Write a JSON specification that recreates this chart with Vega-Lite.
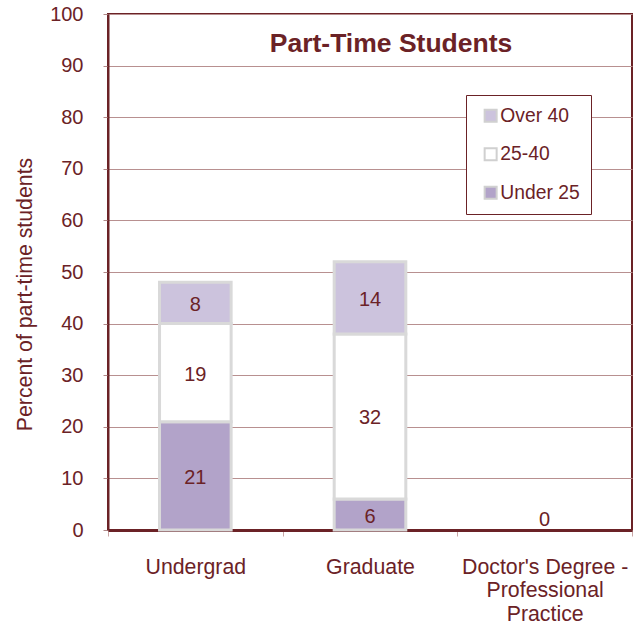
{
  "$schema": "https://vega.github.io/schema/vega-lite/v6.json",
  "width": 524,
  "height": 516,
  "autosize": {"type": "none"},
  "padding": {"left": 108, "top": 14, "right": 1, "bottom": 94},
  "background": "white",
  "config": {
    "font": "Liberation Sans",
    "view": {"stroke": "#6B2226", "strokeWidth": 2}
  },
  "title": {
    "text": "Part-Time Students",
    "fontSize": 26.5,
    "fontWeight": "bold",
    "color": "#6B2226",
    "anchor": "middle",
    "baseline": "middle",
    "offset": -30,
    "dy": 36,
    "dx": 21
  },
  "data": {
    "values": [
      {"category": "Undergrad", "group": "Under 25", "value": 21},
      {"category": "Undergrad", "group": "25-40", "value": 19},
      {"category": "Undergrad", "group": "Over 40", "value": 8},
      {"category": "Graduate", "group": "Under 25", "value": 6},
      {"category": "Graduate", "group": "25-40", "value": 32},
      {"category": "Graduate", "group": "Over 40", "value": 14},
      {"category": "Doctor's Degree - Professional Practice", "group": "Under 25", "value": 0}
    ]
  },
  "transform": [
    {"calculate": "indexof(['Under 25','25-40','Over 40'], datum.group)", "as": "ord"},
    {"stack": "value", "groupby": ["category"], "sort": [{"field": "ord", "order": "ascending"}], "as": ["v0", "v1"]},
    {"calculate": "(datum.v0 + datum.v1) / 2", "as": "mid"}
  ],
  "encoding": {
    "x": {
      "field": "category",
      "type": "nominal",
      "sort": ["Undergrad", "Graduate", "Doctor's Degree - Professional Practice"],
      "scale": {"paddingInner": 0, "paddingOuter": 0, "domain": ["Undergrad", "Graduate", "Doctor's Degree - Professional Practice"]},
      "axis": {
        "title": null,
        "labelAngle": 0,
        "tickBand": "extent",
        "labelPadding": 20,
        "domainColor": "#6B2226",
        "domainWidth": 3,
        "tickColor": "#C9A5A5",
        "tickSize": 6,
        "labelFontSize": 21.3,
        "labelColor": "#6B2226",
        "labelLineHeight": 23.5,
        "labelBaseline": "top",
        "labelExpr": "datum.label == \"Doctor's Degree - Professional Practice\" ? [\"Doctor's Degree -\", \"Professional\", \"Practice\"] : datum.label"
      }
    }
  },
  "layer": [
    {
      "transform": [{"filter": "datum.value > 0"}],
      "mark": {"type": "bar", "width": {"band": 0.41}, "stroke": "#D9D9D9", "strokeWidth": 3},
      "encoding": {
        "y": {
          "field": "v0",
          "type": "quantitative",
          "scale": {"domain": [0, 100], "nice": false},
          "axis": {
            "title": "Percent of part-time students",
            "values": [0, 10, 20, 30, 40, 50, 60, 70, 80, 90, 100],
            "grid": true,
            "gridColor": "#B89090",
            "gridWidth": 1,
            "domainColor": "#6B2226",
            "domainWidth": 2,
            "tickColor": "#B08888",
            "tickSize": 5,
            "labelPadding": 20,
            "labelFontSize": 20,
            "labelColor": "#6B2226",
            "titleFontSize": 21.3,
            "titleFontWeight": "normal",
            "titleColor": "#6B2226",
            "titlePadding": 14,
            "titleY": 280
          }
        },
        "y2": {"field": "v1"},
        "color": {
          "field": "group",
          "type": "nominal",
          "scale": {"domain": ["Over 40", "25-40", "Under 25"], "range": ["#CCC3DD", "#FFFFFF", "#B2A3C9"]},
          "legend": {
            "title": null,
            "orient": "none",
            "legendX": 358,
            "legendY": 81,
            "strokeColor": "#6B2226",
            "fillColor": "white",
            "padding": 11,
            "symbolType": "square",
            "symbolSize": 144,
            "symbolOffset": 4,
            "symbolStrokeColor": "#D0D0D0",
            "symbolStrokeWidth": 2,
            "labelFontSize": 19.3,
            "labelColor": "#6B2226",
            "rowPadding": 17.5,
            "labelOffset": 0
          }
        }
      }
    },
    {
      "transform": [{"filter": "datum.value > 0"}],
      "mark": {"type": "text", "fontSize": 20, "color": "#6B2226", "baseline": "middle", "dy": 2},
      "encoding": {
        "y": {"field": "mid", "type": "quantitative"},
        "text": {"field": "value", "type": "quantitative"}
      }
    },
    {
      "transform": [{"filter": "datum.value == 0"}],
      "mark": {"type": "text", "fontSize": 20, "color": "#6B2226", "baseline": "bottom", "dy": 0},
      "encoding": {
        "y": {"field": "mid", "type": "quantitative"},
        "text": {"field": "value", "type": "quantitative"}
      }
    }
  ]
}
